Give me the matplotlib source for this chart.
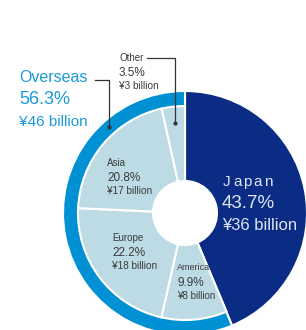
import matplotlib
matplotlib.use("Agg")
from matplotlib import pyplot as plt

# shares in percent and amounts in billion yen
regions = ["Japan", "America", "Europe", "Asia", "Other"]
shares = [43.7, 9.9, 22.2, 20.8, 3.5]
amounts = [36, 8, 18, 17, 3]
overseas_share = 56.3
overseas_amount = 46

NAVY = "#0b2c84"
RING = "#0090d4"
LIGHT = "#bddbe5"
TEXT = "#3a3a3a"
FONT = ["Liberation Sans Narrow", "Liberation Sans", "DejaVu Sans"]

W, H = 306, 330
fig = plt.figure(figsize=(W / 100, H / 100), dpi=100)
ax = fig.add_axes([0, 0, 1, 1])
cx, cy = 185, H - 213
R, r_inner, hole = 122, 107, 32

# outer ring: Japan vs overseas
ax.pie([shares[0], overseas_share], radius=R, center=(cx, cy),
       colors=[NAVY, RING], startangle=90, counterclock=False, frame=True,
       wedgeprops=dict(width=R - hole, edgecolor="white", linewidth=1.5))

# inner overseas breakdown
inner, _ = ax.pie(shares, radius=r_inner, center=(cx, cy),
                  colors=[NAVY] + [LIGHT] * 4, startangle=90, counterclock=False,
                  frame=True,
                  wedgeprops=dict(width=r_inner - hole, edgecolor="white", linewidth=1.5))
inner[0].set_visible(False)

ax.set_xlim(0, W)
ax.set_ylim(0, H)
ax.set_aspect("equal")
ax.axis("off")


def y(p):
    return H - p


def label(x, yp, name, pct, amt, size=(7, 8.5, 7.2), color=TEXT, gap=(15, 13)):
    ax.text(x, y(yp), name, fontsize=size[0], color=color, family=FONT, va="center")
    ax.text(x, y(yp + gap[0]), pct, fontsize=size[1], color=color, family=FONT, va="center")
    ax.text(x, y(yp + gap[0] + gap[1]), amt, fontsize=size[2], color=color, family=FONT, va="center")


def pct_text(v):
    return "%.1f%%" % v


# overseas labels
BLUE_TXT = "#1a9ad8"
ax.text(19, y(78), "Overseas", fontsize=11.5, color=BLUE_TXT, family=FONT, va="center")
ax.text(19, y(100), pct_text(overseas_share), fontsize=13, color=BLUE_TXT, family=FONT, va="center")
ax.text(19, y(122), "¥%d billion" % overseas_amount, fontsize=11, color=BLUE_TXT, family=FONT, va="center")
ax.plot([95, 109, 109], [y(80), y(80), y(127)], color="#333333", lw=0.9)
ax.plot(109, y(127), "o", color="#333333", ms=2)

# Other labels with leader
label(119, 58, regions[4], pct_text(shares[4]), "¥%d billion" % amounts[4])
ax.plot([147, 175, 175], [y(58), y(58), y(123)], color="#333333", lw=0.9)
ax.plot(175, y(123), "o", color="#333333", ms=2)

label(107, 163, regions[3], pct_text(shares[3]), "¥%d billion" % amounts[3])
label(112, 238, regions[2], pct_text(shares[2]), "¥%d billion" % amounts[2])
label(177, 268, regions[1], pct_text(shares[1]), "¥%d billion" % amounts[1],
      size=(6.5, 8.5, 7))

# Japan, letter-spaced name
JP_TXT = "#dfe4f2"
for i, ch in enumerate(regions[0]):
    ax.text(223 + i * 10.2, y(182), ch, fontsize=11, color=JP_TXT, family=FONT, va="center")
ax.text(222, y(203), pct_text(shares[0]), fontsize=13.5, color=JP_TXT, family=FONT, va="center")
ax.text(222, y(226), "¥%d billion" % amounts[0], fontsize=12, color=JP_TXT, family=FONT, va="center")

fig.savefig("out.png", dpi=100)
